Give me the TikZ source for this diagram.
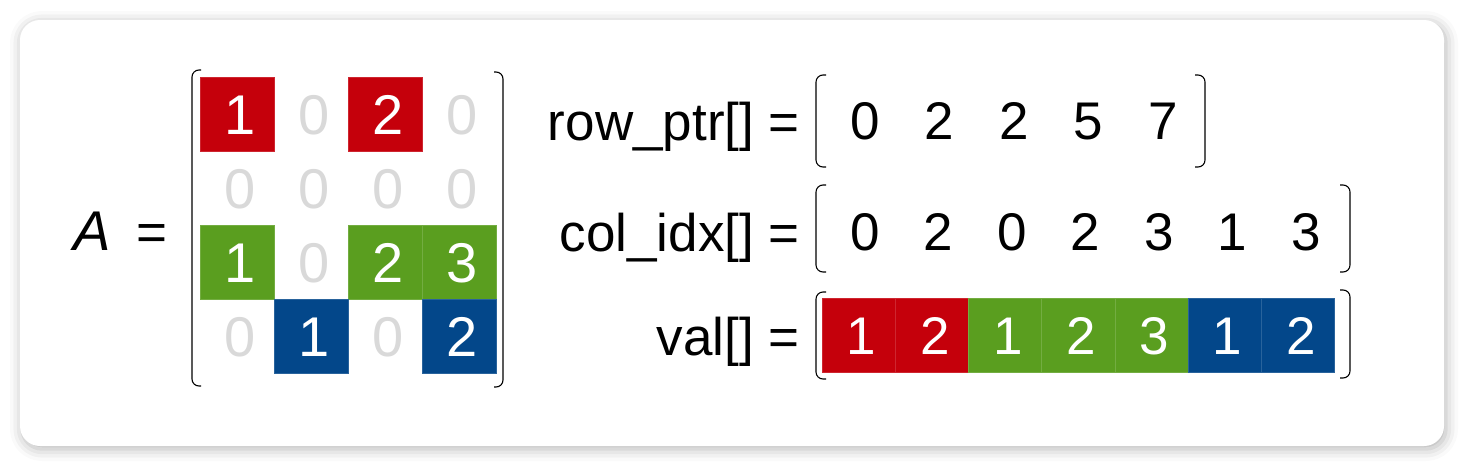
\documentclass[tikz,border=0pt]{standalone}
\usepackage{fontspec}
\setmainfont{Liberation Sans}
\usetikzlibrary{positioning,shadows.blur}
\definecolor{nzred}{HTML}{C5000B}
\definecolor{nzgreen}{HTML}{5A9E1F}
\definecolor{nzblue}{HTML}{03478A}
\definecolor{zerogray}{HTML}{D9D9D9}
\tikzset{
  cell/.style={minimum width=74pt,minimum height=74pt,inner sep=0pt,outer sep=0pt,
    text height=40pt,text depth=0pt,font=\fontsize{56}{56}\selectfont,
    execute at begin node=\hspace*{7pt}},
  nz/.style={cell,fill=#1,draw=#1!85!white,line width=0.5pt,text=white},
  zero/.style={cell,text=zerogray},
  arr/.style={minimum width=#1,minimum height=74pt,inner sep=0pt,outer sep=0pt,
    text height=38pt,text depth=0pt,font=\fontsize{53}{53}\selectfont,
    execute at begin node=\hspace*{6pt}},
  vcell/.style={arr=73.2pt,fill=#1,draw=#1!85!white,line width=0.5pt,text=white},
  lbl/.style={anchor=base east,inner sep=0pt,font=\fontsize{53}{53}\selectfont},
  brk/.style={draw,line width=1.1pt,rounded corners=7pt}
}
\begin{document}
\begin{tikzpicture}[x=1pt,y=-1pt]
  \useasboundingbox (0,0) rectangle (1464,466);
  % card
  \fill[white,rounded corners=20pt,
    blur shadow={shadow xshift=2pt,shadow yshift=-3pt,shadow blur radius=12pt,shadow opacity=30}]
    (20,20) rectangle (1444,446);

  % the matrix A
  \node [font=\fontsize{56}{56}\selectfont\itshape,anchor=base,inner sep=0pt] (lA) at (92,250) {A};
  \node [font=\fontsize{53}{53}\selectfont,anchor=base,inner sep=0pt] (eqA) at (152,250) {=};
  \node [nz=nzred] (m11) at (237,114) {1};
  \node [zero,right=0pt of m11] (m12) {0};
  \node [nz=nzred,right=0pt of m12] (m13) {2};
  \node [zero,right=0pt of m13] (m14) {0};
  \node [zero,below=0pt of m11] (m21) {0};
  \node [zero,right=0pt of m21] (m22) {0};
  \node [zero,right=0pt of m22] (m23) {0};
  \node [zero,right=0pt of m23] (m24) {0};
  \node [nz=nzgreen,below=0pt of m21] (m31) {1};
  \node [zero,right=0pt of m31] (m32) {0};
  \node [nz=nzgreen,right=0pt of m32] (m33) {2};
  \node [nz=nzgreen,right=0pt of m33] (m34) {3};
  \node [zero,below=0pt of m31] (m41) {0};
  \node [nz=nzblue,right=0pt of m41] (m42) {1};
  \node [zero,right=0pt of m42] (m43) {0};
  \node [nz=nzblue,right=0pt of m43] (m44) {2};
  \draw [brk] (201,70) -- (192,70) -- (192,386) -- (201,386);
  \draw [brk] (494,72) -- (503,72) -- (503,387) -- (494,387);

  % row_ptr
  \node [lbl] (lrow) at (800,140) {row\_ptr[] =};
  \node [arr=74.5pt] (p1) at (862,120) {0};
  \node [arr=74.5pt,right=0pt of p1] (p2) {2};
  \node [arr=74.5pt,right=0pt of p2] (p3) {2};
  \node [arr=74.5pt,right=0pt of p3] (p4) {5};
  \node [arr=74.5pt,right=0pt of p4] (p5) {7};
  \draw [brk] (826,75) -- (816,75) -- (816,167) -- (826,167);
  \draw [brk] (1195,75) -- (1205,75) -- (1205,167) -- (1195,167);

  % col_idx
  \node [lbl] (lcol) at (800,251) {col\_idx[] =};
  \node [arr=73.5pt] (c1) at (862,231) {0};
  \node [arr=73.5pt,right=0pt of c1] (c2) {2};
  \node [arr=73.5pt,right=0pt of c2] (c3) {0};
  \node [arr=73.5pt,right=0pt of c3] (c4) {2};
  \node [arr=73.5pt,right=0pt of c4] (c5) {3};
  \node [arr=73.5pt,right=0pt of c5] (c6) {1};
  \node [arr=73.5pt,right=0pt of c6] (c7) {3};
  \draw [brk] (826,185) -- (816,185) -- (816,272) -- (826,272);
  \draw [brk] (1340,185) -- (1350,185) -- (1350,272) -- (1340,272);

  % val
  \node [lbl] (lval) at (800,355) {val[] =};
  \node [vcell=nzred] (v1) at (858.6,335) {1};
  \node [vcell=nzred,right=0pt of v1] (v2) {2};
  \node [vcell=nzgreen,right=0pt of v2] (v3) {1};
  \node [vcell=nzgreen,right=0pt of v3] (v4) {2};
  \node [vcell=nzgreen,right=0pt of v4] (v5) {3};
  \node [vcell=nzblue,right=0pt of v5] (v6) {1};
  \node [vcell=nzblue,right=0pt of v6] (v7) {2};
  \draw [brk] (826,292) -- (816,292) -- (816,379) -- (826,379);
  \draw [brk] (1340,290) -- (1350,290) -- (1350,378) -- (1340,378);
\end{tikzpicture}
\end{document}
